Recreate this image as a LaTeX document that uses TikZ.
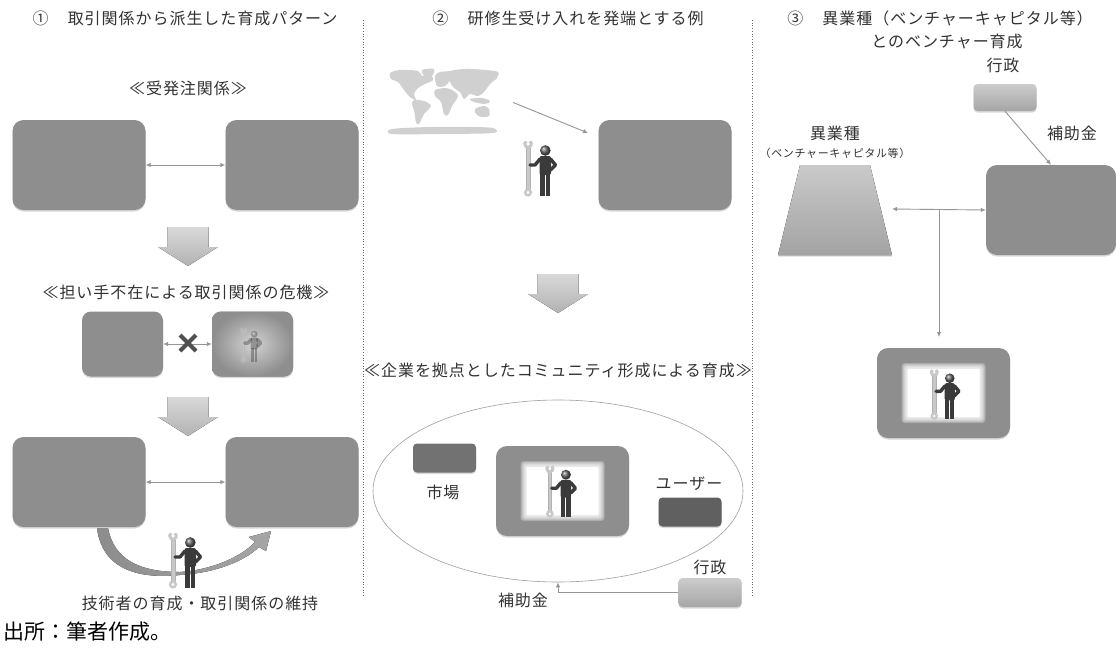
\documentclass[tikz,border=0pt]{standalone}
\usepackage{fontspec}
\setmainfont{Noto Sans CJK JP}
\newfontfamily\jp[LetterSpace=6]{Noto Sans CJK JP}
\usepackage{xcolor}
\usetikzlibrary{arrows.meta,positioning,shapes.geometric,shapes.misc,shadows}

\definecolor{boxgray}{RGB}{142,142,142}
\definecolor{darkbox}{RGB}{114,114,114}
\definecolor{userbox}{RGB}{96,96,96}
\definecolor{linegray}{RGB}{150,150,150}
\definecolor{txtgray}{RGB}{50,50,50}
\definecolor{mapgray}{RGB}{208,208,208}
\definecolor{mangray}{RGB}{58,58,58}
\definecolor{wrenchgray}{RGB}{200,200,200}
\definecolor{xgray}{RGB}{80,80,80}

\tikzset{
  worker/.pic={
    \fill[wrenchgray,draw=gray!60] (-13.8,-20) rectangle (-10.2,21.5);
    \draw[wrenchgray,line width=3pt] (-12,-24) ++(-55:3.3) arc[start angle=-55,end angle=235,radius=3.3];
    \draw[wrenchgray,line width=2.4pt] (-12,24.5) circle (2.8);
    \fill[mangray] (0,5) rectangle (4.6,28);
    \fill[mangray] (5.8,5) rectangle (10.4,28);
    \fill[mangray,rounded corners=2pt] (-0.5,-12) rectangle (11,7);
    \draw[mangray,line width=3.4pt,line cap=round,line join=round] (0,-9) -- (-5,-3) -- (-10,-3);
    \draw[mangray,line width=3.4pt,line cap=round,line join=round] (10.5,-9) -- (15.5,-3) -- (10.5,2);
    \shade[ball color=mangray!80] (5.3,-17.5) circle (5.3);
  },
  bigdown/.pic={
    \fill[top color=gray!30,bottom color=gray!60] (-20.5,-20) -- (20.5,-20) -- (20.5,0) -- (30,0)
      -- (0,19) -- (-30,0) -- (-20.5,0) -- cycle;
  },
  glowpanel/.pic={
    \foreach \d in {6,5,...,1}
      \fill[white,fill opacity=.25,rounded corners=3pt] (-36-\d,-24-\d) rectangle (36+\d,24+\d);
    \fill[white,rounded corners=1pt] (-36,-24) rectangle (36,24);
  }
}

\begin{document}
\begin{tikzpicture}[x=1pt,y=-1pt,
  >={Latex[length=5pt,width=4.5pt]},
  every node/.style={text=txtgray,inner sep=0pt},
  note/.style={font=\jp\fontsize{16}{19}\selectfont},
  smallnote/.style={font=\jp\fontsize{11}{13}\selectfont},
  boxshadow/.style={drop shadow={shadow xshift=0pt,shadow yshift=-1.5pt,opacity=.3}},
  firm/.style={fill=boxgray,rounded corners=11pt,minimum width=133pt,minimum height=90pt,boxshadow},
  tag/.style={rounded corners=4pt,minimum width=63pt,minimum height=29pt,boxshadow},
  govtag/.style={tag,top color=gray!40,bottom color=gray!70},
  link/.style={draw=linegray,line width=.9pt},
  divider/.style={draw=gray!80!black,dotted,line width=.7pt}
]
\fill[white] (0,0) rectangle (1116,651);
\useasboundingbox (0,0) rectangle (1116,651);

\draw[divider] (363,20) -- (363,597);
\draw[divider] (752,20) -- (752,597);

% (1) trading relation
\node[note] (title1) at (185,18) {①\hspace{1.2em}取引関係から派生した育成パターン};
\node[note] (order) at (188,88) {≪受発注関係≫};
\node[firm] (client1) at (79,165) {};
\node[firm] (supplier1) at (292,165) {};
\draw[link,<->] (client1) -- (supplier1);
\pic at (188,247) {bigdown};

\node[note] (crisis) at (186,292) {≪担い手不在による取引関係の危機≫};
\node[firm,minimum width=81pt,minimum height=65pt,rounded corners=9pt] (client2) at (122.5,344) {};
\node[firm,minimum width=81pt,minimum height=65pt,rounded corners=9pt,
  inner color=gray!35,outer color=boxgray] (supplier2) at (252.5,344) {};
\pic[scale=.62,opacity=.4] at (251,345) {worker};
\draw[link,<->] (client2) -- (supplier2);
\node[cross out,draw=xgray,line width=4pt,minimum size=12pt] (cutoff) at (188,343) {};
\pic at (188,417) {bigdown};

\node[firm] (client3) at (79,482) {};
\node[firm] (supplier3) at (292,482) {};
\draw[link,<->] (client3) -- (supplier3);
\fill[left color=gray!90,right color=gray!70] (97,528) .. controls (103,576) and (150,578) .. (180,575)
  .. controls (215,573) and (245,561) .. (259,547) -- (266,551) -- (271,531) -- (249,537) -- (255,542)
  .. controls (240,558) and (210,570) .. (180,572) .. controls (140,572) and (114,560) .. (108,528) -- cycle;
\pic at (185,560) {worker};
\node[note] (keep) at (200,603) {技術者の育成・取引関係の維持};
\node[anchor=west,text=black,font=\fontsize{21}{24}\selectfont] (source) at (3,632) {出所：筆者作成。};

% (2) trainees
\node[note] (title2) at (568,18) {②\hspace{1.2em}研修生受け入れを発端とする例};
\node[minimum width=125pt,minimum height=66pt] (world) at (450.5,102.5) {};
\fill[mapgray] plot[smooth cycle] coordinates {(390,73) (400,70) (418,71) (422,76) (430,74) (433,80) (425,84) (418,88) (414,94) (416,100) (410,97) (404,90) (398,82) (391,79)};
\fill[mapgray] plot[smooth cycle] coordinates {(422,70) (434,69) (432,76) (425,77)};
\fill[mapgray] plot[smooth cycle] coordinates {(414,100) (424,101) (431,106) (424,114) (419,124) (416,122) (414,110) (412,104)};
\fill[mapgray] plot[smooth cycle] coordinates {(435,76) (440,72) (452,72) (450,80) (445,86) (437,86)};
\fill[mapgray] plot[smooth cycle] coordinates {(435,90) (445,88) (452,90) (458,96) (452,106) (448,115) (444,114) (441,102) (435,96)};
\fill[mapgray] plot[smooth cycle] coordinates {(448,72) (465,69) (485,70) (498,72) (497,78) (490,84) (484,92) (478,96) (470,94) (464,99) (460,92) (454,88) (450,82)};
\fill[mapgray] plot[smooth cycle] coordinates {(470,99) (482,98) (490,101) (485,104) (474,102)};
\fill[mapgray] plot[smooth cycle] coordinates {(475,109) (484,106) (489,109) (489,116) (481,117) (476,114)};
\fill[mapgray] plot[smooth cycle] coordinates {(392,129) (430,127) (470,127) (493,128) (493,133) (440,134) (392,134)};
\pic at (540,168) {worker};
\node[firm] (host) at (665,165) {};
\coordinate (hostin) at (588,133);
\draw[link,->] (world.east) -- (hostin);
\pic at (558,294) {bigdown};

\node[note] (commtitle) at (558,370) {≪企業を拠点としたコミュニティ形成による育成≫};
\node[ellipse,draw=gray!75,line width=.6pt,minimum width=370pt,minimum height=182pt] (community) at (558,491) {};
\node[tag,fill=darkbox] (market) at (444.5,458) {};
\node[note] (marketlbl) at (443,492) {市場};
\node[firm] (core) at (562.5,491) {};
\pic at (core.center) {glowpanel};
\pic[scale=.93] at (561,491) {worker};
\node[note] (userlbl) at (689,484) {ユーザー};
\node[tag,fill=userbox] (users) at (690,512) {};
\node[note] (gov2lbl) at (710,567) {行政};
\node[govtag] (gov2) at (710,592.5) {};
\draw[link,->] (gov2.west) -| (community.south);
\node[note] (subsidy2) at (523,600) {補助金};

% (3) venture support
\node[note] (title3) at (940,18) {③\hspace{1.2em}異業種（ベンチャーキャピタル等）};
\node[note] (title3b) at (947,41) {とのベンチャー育成};
\node[note] (gov3lbl) at (1003,65) {行政};
\node[govtag,minimum height=27pt] (gov3) at (1005,97.5) {};
\node[firm,minimum width=130pt] (venture) at (1051,210) {};
\draw[link,->] (gov3.south) -- (venture.north);
\node[note] (subsidy3) at (1072,133) {補助金};
\node[note] (partnerlbl) at (835,133) {異業種};
\node[smallnote] (partnersub) at (835,153) {（ベンチャーキャピタル等）};
\fill[top color=gray!42,bottom color=gray!72,boxshadow] (800,165) -- (870,165) -- (892,255) -- (778,255) -- cycle;
\coordinate (partner) at (892,209);
\draw[link,<->] (partner) -- (venture.west);
\coordinate (branch) at (939,209);
\coordinate (incubin) at (939,337);
\node[firm] (incub) at (943.5,393) {};
\pic at (incub.center) {glowpanel};
\pic[scale=.9] at (945,394) {worker};
\draw[link,->] (branch) -- (incubin);
\end{tikzpicture}
\end{document}
